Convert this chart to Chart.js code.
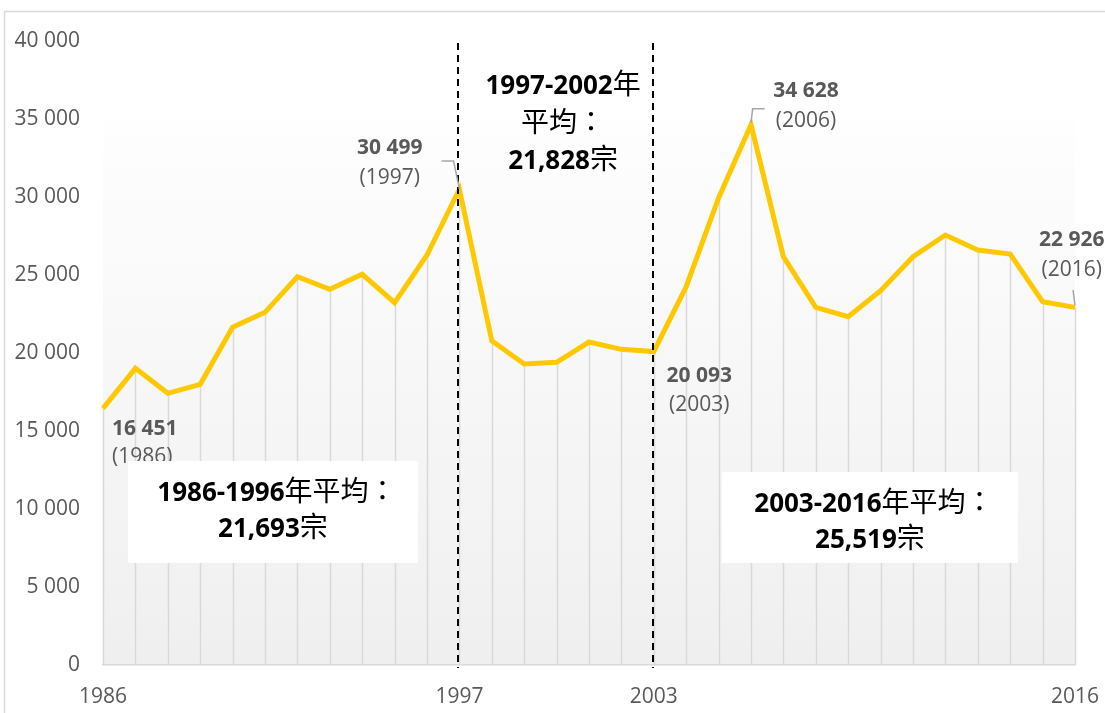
<!DOCTYPE html>
<html>
<head>
<meta charset="utf-8">
<script src="https://cdn.jsdelivr.net/npm/chart.js@4.4.1/dist/chart.umd.min.js"></script>
<style>
  html, body { margin: 0; padding: 0; background: #ffffff; }
  #wrap { width: 1105px; height: 713px; position: relative; }
</style>
</head>
<body>
<div id="wrap"><canvas id="c" width="1105" height="713"></canvas></div>
<script>
// ---- data ----
const years = ['1986','1987','1988','1989','1990','1991','1992','1993','1994','1995','1996',
               '1997','1998','1999','2000','2001','2002','2003','2004','2005','2006','2007',
               '2008','2009','2010','2011','2012','2013','2014','2015','2016'];
const cases = [16451, 19018, 17415, 17993, 21647, 22608, 24891, 24082, 25044, 23224, 26281,
               30499, 20788, 19294, 19403, 20704, 20236, 20093, 24250, 29935, 34628, 26172,
               22929, 22327, 23992, 26172, 27563, 26602, 26345, 23288, 22926];
const yTicks = [0, 5000, 10000, 15000, 20000, 25000, 30000, 35000, 40000];
const xTickLabels = ['1986', '1997', '2003', '2016'];
const dividerYears = ['1997', '2003'];
const periodTexts = [
  ['1986-1996年平均：', '21,693宗'],
  ['1997-2002年', '平均：', '21,828宗'],
  ['2003-2016年平均：', '25,519宗']
];

// ---- helpers ----
const fmt = v => String(v).replace(/\B(?=(\d{3})+(?!\d))/g, ' ');
const GRAY = '#595959';

function segments(str) {
  const out = [];
  const re = /[\u3000-\u9fff\uff00-\uffef]+|[^\u3000-\u9fff\uff00-\uffef]+/g;
  let m;
  while ((m = re.exec(str)) !== null) {
    out.push({ t: m[0], cjk: /[\u3000-\u9fff\uff00-\uffef]/.test(m[0]) });
  }
  return out;
}
function drawMixed(ctx, str, cx, cy, latinFont, cjkFont, color) {
  const segs = segments(str);
  let total = 0;
  segs.forEach(s => { ctx.font = s.cjk ? cjkFont : latinFont; s.w = ctx.measureText(s.t).width; total += s.w; });
  let x = cx - total / 2;
  ctx.fillStyle = color;
  ctx.textAlign = 'left';
  ctx.textBaseline = 'alphabetic';
  segs.forEach(s => { ctx.font = s.cjk ? cjkFont : latinFont; ctx.fillText(s.t, x, cy + 9); x += s.w; });
}

const deco = {
  id: 'deco',
  beforeDraw(chart) {
    const { ctx, chartArea: a, scales: { y } } = chart;
    ctx.save();
    ctx.fillStyle = '#ffffff';
    ctx.fillRect(0, 0, chart.width, chart.height);
    const top = y.getPixelForValue(34800);
    const g = ctx.createLinearGradient(0, top, 0, a.bottom);
    g.addColorStop(0, '#fefefe');
    g.addColorStop(1, '#efefef');
    ctx.fillStyle = g;
    ctx.fillRect(a.left, top, a.right - a.left, a.bottom - top);
    ctx.strokeStyle = '#d9d9d9';
    ctx.lineWidth = 1.5;
    ctx.strokeRect(4.5, 11.5, 1300, 900);
    ctx.restore();
  },
  beforeDatasetsDraw(chart) {
    const { ctx, chartArea: a } = chart;
    const pts = chart.getDatasetMeta(0).data;
    ctx.save();
    ctx.strokeStyle = '#d9d9d9';
    ctx.lineWidth = 1.5;
    pts.forEach(p => {
      ctx.beginPath();
      ctx.moveTo(Math.round(p.x) + 0.5, p.y);
      ctx.lineTo(Math.round(p.x) + 0.5, a.bottom);
      ctx.stroke();
    });
    ctx.restore();
  },
  afterDatasetsDraw(chart) {
    const { ctx, chartArea: a, scales: { x, y } } = chart;
    const pts = chart.getDatasetMeta(0).data;
    const xp = i => x.getPixelForValue(i);
    const yp = v => y.getPixelForValue(v);
    ctx.save();

    ctx.strokeStyle = '#000000';
    ctx.lineWidth = 2;
    ctx.setLineDash([7, 5]);
    dividerYears.forEach(yr => {
      const px = Math.round(xp(years.indexOf(yr)));
      ctx.beginPath();
      ctx.moveTo(px - 1, a.top + 2);
      ctx.lineTo(px - 1, a.bottom + 3);
      ctx.stroke();
    });
    ctx.setLineDash([]);

    ctx.strokeStyle = '#a6a6a6';
    ctx.lineWidth = 1.5;
    const p97 = pts[years.indexOf('1997')], p06 = pts[years.indexOf('2006')], p16 = pts[years.indexOf('2016')];
    ctx.beginPath();
    ctx.moveTo(xp(10.45), yp(32300)); ctx.lineTo(xp(10.82), yp(32300)); ctx.lineTo(p97.x, p97.y);
    ctx.moveTo(xp(20.42), yp(35650)); ctx.lineTo(xp(20.05), yp(35650)); ctx.lineTo(p06.x, p06.y - 2);
    ctx.moveTo(xp(29.94), yp(24050)); ctx.lineTo(p16.x, p16.y - 2);
    ctx.stroke();

    const valueFont = 'bold 21px "Open Sans", sans-serif';
    const yearFont = '21px "Open Sans", sans-serif';
    const lbl = [
      { yr: '1986', cx: 0.28, align: 'left', v1: 15128, v2: 13333 },
      { yr: '1997', cx: 8.85, align: 'center', v1: 33140, v2: 31217 },
      { yr: '2003', cx: 18.4, align: 'center', v1: 18525, v2: 16667 },
      { yr: '2006', cx: 21.7, align: 'center', v1: 36793, v2: 34870 },
      { yr: '2016', cx: 29.9, align: 'center', v1: 27243, v2: 25320 }
    ];
    ctx.fillStyle = GRAY;
    ctx.textBaseline = 'middle';
    lbl.forEach(l => {
      const i = years.indexOf(l.yr);
      ctx.textAlign = l.align;
      ctx.font = valueFont;
      ctx.fillText(fmt(cases[i]), xp(l.cx), yp(l.v1));
      ctx.font = yearFont;
      ctx.fillText('(' + years[i] + ')', xp(l.cx), yp(l.v2));
    });

    const latin = 'bold 26px "Open Sans", sans-serif';
    const cjk = '28px "Noto Sans CJK TC", "Noto Sans CJK SC", sans-serif';
    ctx.fillStyle = '#ffffff';
    ctx.fillRect(xp(0.77), yp(13077), xp(9.72) - xp(0.77), yp(6538) - yp(13077));
    ctx.fillRect(xp(19.1), yp(12372), xp(28.24) - xp(19.1), yp(6538) - yp(12372));
    const c1 = (xp(0.77) + xp(9.72)) / 2, c3 = (xp(19.1) + xp(28.24)) / 2;
    drawMixed(ctx, periodTexts[0][0], c1 + 4, yp(11090), latin, cjk, '#000');
    drawMixed(ctx, periodTexts[0][1], c1, yp(8782), latin, cjk, '#000');
    const c2 = xp(14.2);
    drawMixed(ctx, periodTexts[1][0], c2, yp(37180), latin, cjk, '#000');
    drawMixed(ctx, periodTexts[1][1], c2, yp(34744), latin, cjk, '#000');
    drawMixed(ctx, periodTexts[1][2], c2, yp(32372), latin, cjk, '#000');
    drawMixed(ctx, periodTexts[2][0], c3 + 4, yp(10385), latin, cjk, '#000');
    drawMixed(ctx, periodTexts[2][1], c3, yp(8077), latin, cjk, '#000');
    ctx.restore();
  }
};

new Chart(document.getElementById('c'), {
  type: 'line',
  data: {
    labels: years,
    datasets: [{
      data: cases,
      borderColor: '#FFC800',
      borderWidth: 5,
      pointRadius: 0,
      tension: 0,
      fill: false,
      borderJoinStyle: 'miter',
      borderCapStyle: 'butt'
    }]
  },
  options: {
    responsive: false,
    animation: false,
    devicePixelRatio: 1,
    layout: { padding: { top: 41, right: 30, left: 0, bottom: 0 } },
    plugins: { legend: { display: false }, tooltip: { enabled: false }, title: { display: false } },
    scales: {
      x: {
        offset: false,
        grid: { display: false, drawTicks: false },
        border: { display: true, color: '#d9d9d9', width: 1.5 },
        ticks: {
          autoSkip: false, maxRotation: 0, minRotation: 0, padding: 19,
          color: GRAY, font: { family: '"Open Sans", sans-serif', size: 21 },
          callback: function (v, i) { const l = years[i]; return xTickLabels.includes(l) ? l : ''; }
        },
        afterFit: s => { s.height = 48; s.paddingLeft = 0; s.paddingRight = 0; }
      },
      y: {
        min: yTicks[0], max: yTicks[yTicks.length - 1],
        afterBuildTicks: s => { s.ticks = yTicks.map(v => ({ value: v })); },
        grid: { display: false, drawTicks: false },
        border: { display: false },
        ticks: {
          padding: 23, color: GRAY, font: { family: '"Open Sans", sans-serif', size: 21 },
          callback: v => fmt(v)
        },
        afterFit: s => { s.width = 103; s.paddingTop = 0; s.paddingBottom = 0; }
      }
    }
  },
  plugins: [deco]
});
</script>
</body>
</html>
